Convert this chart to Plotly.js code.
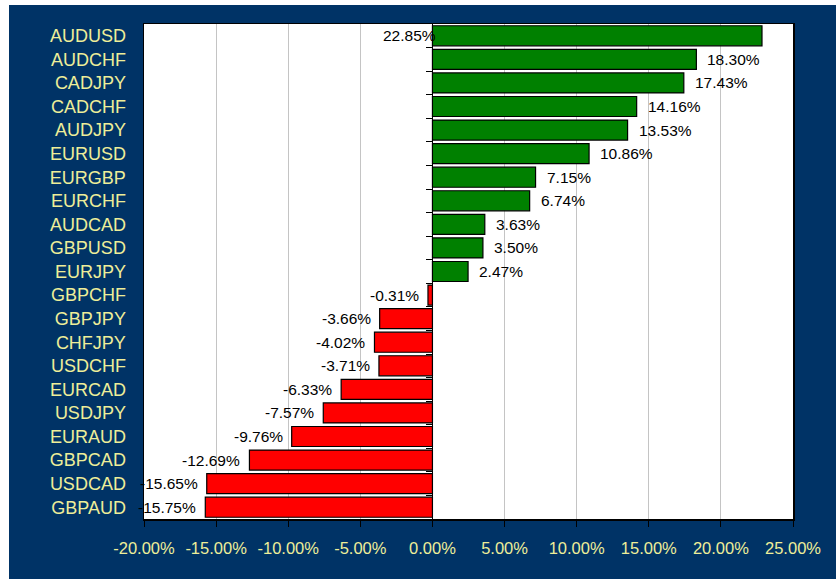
<!DOCTYPE html>
<html>
<head>
<meta charset="utf-8">
<script src="https://cdn.plot.ly/plotly-3.0.1.min.js"></script>
<style>
  html, body { margin: 0; padding: 0; background: #ffffff; }
  #chart { position: absolute; left: 9px; top: 5px; width: 827px; height: 574px; }
</style>
</head>
<body>
<div id="chart"></div>
<script>
// ---- data (top to bottom) ----
const pairs = ["AUDUSD","AUDCHF","CADJPY","CADCHF","AUDJPY","EURUSD","EURGBP","EURCHF","AUDCAD","GBPUSD","EURJPY",
               "GBPCHF","GBPJPY","CHFJPY","USDCHF","EURCAD","USDJPY","EURAUD","GBPCAD","USDCAD","GBPAUD"];
const changes = [22.85, 18.30, 17.43, 14.16, 13.53, 10.86, 7.15, 6.74, 3.63, 3.50, 2.47,
                 -0.31, -3.66, -4.02, -3.71, -6.33, -7.57, -9.76, -12.69, -15.65, -15.75];
const xTickVals = [-20, -15, -10, -5, 0, 5, 10, 15, 20, 25];
const xTickLabels = ["-20.00%", "-15.00%", "-10.00%", "-5.00%", "0.00%", "5.00%", "10.00%", "15.00%", "20.00%", "25.00%"];

const xMin = -20, xMax = 25;
const n = pairs.length;
const idx = pairs.map((_, i) => i);
const barColors = changes.map(v => v >= 0 ? "#008000" : "#ff0000");
const boundaries = idx.slice(0, n - 1).map(i => i + 0.5);

const labelFont = { family: "Liberation Sans, Arial, sans-serif", size: 15.5, color: "#000000" };
const annotations = changes.map((v, i) => {
  const txt = v.toFixed(2) + "%";
  if (v >= 0) {
    if (v + 4 > xMax) {
      return { x: 0, y: pairs[i], xref: "x", yref: "y", text: txt, showarrow: false,
               xanchor: "right", yanchor: "middle", xshift: 6, font: labelFont };
    }
    return { x: v, y: pairs[i], xref: "x", yref: "y", text: txt, showarrow: false,
             xanchor: "left", yanchor: "middle", xshift: 9, font: labelFont };
  }
  return { x: v, y: pairs[i], xref: "x", yref: "y", text: txt, showarrow: false,
           xanchor: "right", yanchor: "middle", xshift: -7, font: labelFont };
});

const traces = [
  {
    type: "bar", orientation: "h",
    x: changes, y: pairs,
    marker: { color: barColors, line: { color: "#000000", width: 1.2 } },
    hoverinfo: "x+y", showlegend: false
  },
  {
    type: "scatter", mode: "markers",
    x: changes, y: idx, yaxis: "y2",
    marker: { opacity: 0, size: 1 },
    hoverinfo: "skip", showlegend: false
  }
];

const layout = {
  width: 827, height: 574,
  paper_bgcolor: "#003366",
  plot_bgcolor: "#ffffff",
  margin: { l: 135, r: 43, t: 19, b: 60 },
  bargap: 0.15,
  showlegend: false,
  font: { family: "Liberation Sans, Arial, sans-serif", color: "#eeee99" },
  xaxis: {
    range: [xMin, xMax],
    tickmode: "array", tickvals: xTickVals, ticktext: xTickLabels,
    ticks: "outside", ticklen: 6, tickcolor: "#000000", tickwidth: 1,
    showgrid: true, gridcolor: "#c4c4c4", gridwidth: 1,
    zeroline: false,
    showline: true, linecolor: "#000000", linewidth: 1.5, mirror: true,
    tickfont: { size: 16.5, color: "#eeee99" },
    ticklabelstandoff: 8,
    fixedrange: true
  },
  yaxis: {
    type: "category",
    categoryorder: "array", categoryarray: pairs,
    range: [n - 0.5, -0.5],
    ticks: "", showgrid: false, zeroline: false,
    showline: true, linecolor: "#000000", linewidth: 1.5, mirror: true,
    tickfont: { size: 18, color: "#eeee99" },
    ticklabelstandoff: 13,
    fixedrange: true
  },
  yaxis2: {
    overlaying: "y", anchor: "free",
    position: (0 - xMin) / (xMax - xMin),
    range: [n - 0.5, -0.5],
    tickmode: "array", tickvals: boundaries,
    ticks: "outside", ticklen: 6, tickcolor: "#000000", tickwidth: 1,
    showticklabels: false, showgrid: false, zeroline: false,
    showline: true, linecolor: "#000000", linewidth: 1,
    fixedrange: true
  },
  annotations: annotations
};

Plotly.newPlot("chart", traces, layout, { displayModeBar: false, staticPlot: true });
</script>
</body>
</html>
